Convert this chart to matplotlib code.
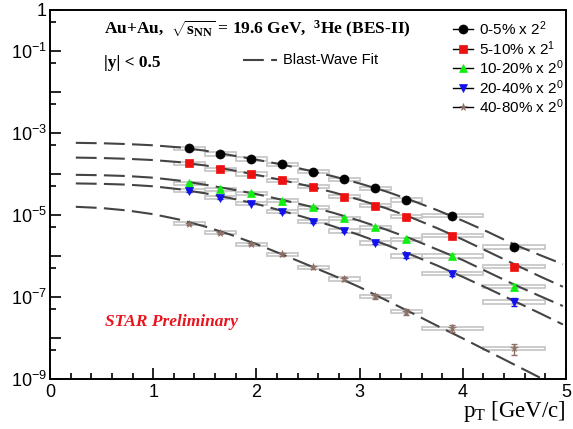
import matplotlib
matplotlib.use("Agg")
import matplotlib.pyplot as plt
import numpy as np
from matplotlib.patches import Rectangle
from matplotlib.ticker import FixedLocator, FuncFormatter, NullFormatter

plt.rcParams['mathtext.fontset'] = 'custom'
plt.rcParams['mathtext.rm'] = 'Liberation Serif'
plt.rcParams['mathtext.it'] = 'Liberation Serif:italic'
plt.rcParams['mathtext.bf'] = 'Liberation Serif:bold'
plt.rcParams['mathtext.sf'] = 'Liberation Sans'

# ---------------- data ----------------
pt_centers = [1.35, 1.65, 1.95, 2.25, 2.55, 2.85, 3.15, 3.45, 3.9, 4.5]
bin_lo = [1.2, 1.5, 1.8, 2.1, 2.4, 2.7, 3.0, 3.3, 3.6, 4.2]
bin_hi = [1.5, 1.8, 2.1, 2.4, 2.7, 3.0, 3.3, 3.6, 4.2, 4.8]

centralities = ["0-5%", "5-10%", "10-20%", "20-40%", "40-80%"]
scale_powers = [2, 1, 0, 0, 0]

# spectra (already scaled), given as log10 of the value
log_y_0_5 = [-3.37, -3.51, -3.63, -3.76, -3.94, -4.13, -4.35, -4.63, -5.02, -5.78]
log_y_5_10 = [-3.74, -3.88, -4.00, -4.15, -4.31, -4.55, -4.77, -5.04, -5.50, -6.26]
log_y_10_20 = [-4.23, -4.37, -4.47, -4.65, -4.81, -5.08, -5.30, -5.59, -6.00, -6.75]
log_y_20_40 = [-4.41, -4.58, -4.72, -4.92, -5.16, -5.39, -5.68, -6.00, -6.43, -7.12]
log_y_40_80 = [-5.21, -5.43, -5.71, -5.96, -6.28, -6.56, -6.98, -7.36, -7.76, -8.25]

# relative statistical errors
stat_rel_0_5 = [0.03, 0.03, 0.03, 0.04, 0.04, 0.05, 0.05, 0.06, 0.07, 0.12]
stat_rel_5_10 = [0.03, 0.03, 0.04, 0.04, 0.05, 0.05, 0.06, 0.07, 0.08, 0.14]
stat_rel_10_20 = [0.04, 0.04, 0.05, 0.05, 0.06, 0.06, 0.07, 0.08, 0.10, 0.18]
stat_rel_20_40 = [0.05, 0.05, 0.05, 0.06, 0.06, 0.07, 0.08, 0.09, 0.12, 0.22]
stat_rel_40_80 = [0.05, 0.06, 0.06, 0.07, 0.08, 0.10, 0.15, 0.18, 0.20, 0.30]

# relative systematic errors (boxes)
sys_rel = [0.09, 0.09, 0.09, 0.09, 0.09, 0.09, 0.09, 0.09, 0.09, 0.09]

# Blast-wave fit curves (log10 values)
fit_pt = [0.25, 0.5, 0.75, 1.0, 1.25, 1.5, 1.75, 2.0, 2.25, 2.5, 2.75, 3.0,
          3.25, 3.5, 3.75, 4.0, 4.25, 4.5, 4.75, 4.97]
fit_log_0_5 = [-3.24, -3.25, -3.27, -3.30, -3.35, -3.43, -3.54, -3.65, -3.77, -3.91,
               -4.06, -4.23, -4.42, -4.64, -4.88, -5.14, -5.42, -5.72, -5.98, -6.20]
fit_log_5_10 = [-3.60, -3.61, -3.63, -3.66, -3.71, -3.79, -3.90, -4.02, -4.15, -4.29,
                -4.45, -4.63, -4.83, -5.06, -5.32, -5.60, -5.90, -6.20, -6.50, -6.75]
fit_log_10_20 = [-4.02, -4.03, -4.05, -4.09, -4.16, -4.26, -4.37, -4.49, -4.63, -4.78,
                 -4.95, -5.14, -5.35, -5.58, -5.84, -6.10, -6.40, -6.70, -6.98, -7.22]
fit_log_20_40 = [-4.23, -4.24, -4.26, -4.30, -4.37, -4.47, -4.59, -4.73, -4.90, -5.08,
                 -5.28, -5.49, -5.72, -5.97, -6.23, -6.51, -6.80, -7.10, -7.40, -7.67]
fit_log_40_80 = [-4.80, -4.83, -4.89, -4.98, -5.11, -5.28, -5.48, -5.71, -5.96, -6.22,
                 -6.48, -6.76, -7.07, -7.38, -7.70, -8.01, -8.33, -8.65, -8.97, -9.25]

series_logs = [log_y_0_5, log_y_5_10, log_y_10_20, log_y_20_40, log_y_40_80]
series_stat = [stat_rel_0_5, stat_rel_5_10, stat_rel_10_20, stat_rel_20_40, stat_rel_40_80]
fit_logs = [fit_log_0_5, fit_log_5_10, fit_log_10_20, fit_log_20_40, fit_log_40_80]

colors = ['#000000', '#ee1111', '#11ee11', '#1111ee', '#8c7066']
markers = ['o', 's', '^', 'v', '*']
msizes = [6.5, 6.2, 6.2, 6.2, 5.5]

# ---------------- figure ----------------
fig = plt.figure(figsize=(5.73, 4.29), dpi=100)
ax = fig.add_axes([50/573, 1 - 379/429, 516/573, 369/429])
ax.set_yscale('log')
ax.set_xlim(0, 5)
ax.set_ylim(1e-9, 1)

fit_color = '#444444'
for flog in fit_logs:
    ax.plot(fit_pt, 10**np.array(flog), color=fit_color, lw=1.5,
            dashes=(10, 3.5), zorder=3)

for ylog, stat, col, mk, ms in zip(series_logs, series_stat, colors, markers, msizes):
    y = 10**np.array(ylog)
    # systematic boxes
    for lo, hi, yy, s in zip(bin_lo, bin_hi, y, sys_rel):
        ax.add_patch(Rectangle((lo, yy*(1-s)), hi-lo, yy*2*s, fill=False,
                               edgecolor='#c8c8c8', lw=1.3, zorder=2))
    st = np.array(stat)
    ax.errorbar(pt_centers, y, yerr=[y*st, y*st], fmt='none', ecolor=col,
                elinewidth=1.0, capsize=2, zorder=4)
    ax.plot(pt_centers, y, linestyle='none', marker=mk, color=col, ms=ms,
            markeredgewidth=0.5, zorder=5)

# ---------------- axes styling ----------------
for sp in ax.spines.values():
    sp.set_linewidth(1.4)

major_y = [10.0**e for e in range(-9, 1)]
minor_y = [5 * 10.0**e for e in range(-9, 0)]
ax.yaxis.set_major_locator(FixedLocator(major_y))
ax.yaxis.set_minor_locator(FixedLocator(minor_y))
ax.yaxis.set_minor_formatter(NullFormatter())

def yfmt(v, pos):
    e = int(round(np.log10(v)))
    if e == 0:
        return r'$\mathsf{1}$'
    if e % 2 == 0:
        return ''
    return r'$\mathsf{10^{%d}}$' % e

ax.yaxis.set_major_formatter(FuncFormatter(yfmt))
ax.set_xticks([0, 1, 2, 3, 4, 5])
ax.set_xticks(np.arange(0, 5.01, 0.2), minor=True)
ax.set_xticklabels(['0', '1', '2', '3', '4', '5'])

ax.tick_params(axis='both', which='major', direction='in', length=8, width=1.2,
               labelsize=13, top=False, right=False)
ax.tick_params(axis='both', which='minor', direction='in', length=4.5, width=1.2,
               top=False, right=False)
ax.tick_params(axis='y', which='major', pad=2)
ax.tick_params(axis='x', which='major', pad=3.5)
for lab in ax.get_xticklabels() + ax.get_yticklabels():
    lab.set_fontfamily('Liberation Sans')

# ---------------- texts ----------------
ax.text(0.1047, 0.951, r'Au+Au,  $\mathbf{\sqrt{s_{NN}}}$ = 19.6 GeV,  $\mathbf{^{3}}$He (BES-II)',
        transform=ax.transAxes, fontsize=12.5, fontweight='bold',
        fontfamily='Liberation Serif', va='center', ha='left')
ax.text(0.1047, 0.856, '|y| < 0.5', transform=ax.transAxes, fontsize=12.5,
        fontweight='bold', fontfamily='Liberation Serif', va='center', ha='left')
ax.text(0.1066, 0.1545, 'STAR Preliminary', transform=ax.transAxes, fontsize=12.5,
        fontweight='bold', fontstyle='italic', fontfamily='Liberation Serif',
        color='#e8141e', va='center', ha='left')

# blast-wave legend entry
ax.plot([0.374, 0.440], [0.8645, 0.8645], transform=ax.transAxes, color=fit_color,
        lw=1.5, dashes=(10, 3.5), clip_on=False)
ax.text(0.4516, 0.8645, 'Blast-Wave Fit', transform=ax.transAxes, fontsize=10.5,
        fontfamily='Liberation Sans', va='center', ha='left')

# centrality legend
leg_rows = [0.9485, 0.894, 0.843, 0.789, 0.737]
for ry, cen, p, col, mk, ms in zip(leg_rows, centralities, scale_powers, colors, markers, msizes):
    ax.plot([0.781, 0.820], [ry, ry], transform=ax.transAxes, color='black', lw=1.0,
            clip_on=False)
    ax.plot([0.8005], [ry], transform=ax.transAxes, marker=mk, color=col, ms=ms,
            linestyle='none', clip_on=False, markeredgewidth=0.5)
    ax.text(0.831, ry, cen + r' x 2$\mathsf{^{%d}}$' % p, transform=ax.transAxes,
            fontsize=11, fontfamily='Liberation Sans', va='center', ha='left')

fig.text(566/573, 1 - 412/429, r'p$_{\mathrm{T}}$ [GeV/c]', fontsize=16.5,
         fontfamily='Liberation Serif', ha='right', va='center')

fig.savefig('out.png', dpi=100)
